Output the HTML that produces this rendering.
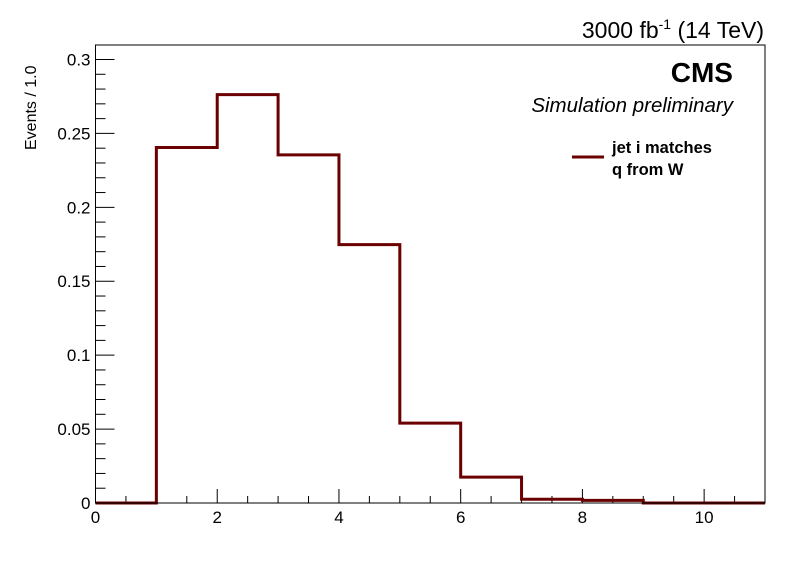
<!DOCTYPE html>
<html><head><meta charset="utf-8"><style>
body{margin:0;background:#fff;}
svg{display:block;font-family:"Liberation Sans",Arial,sans-serif;}
</style></head><body>
<svg id="chart" width="796" height="572" viewBox="0 0 796 572">
<rect x="0" y="0" width="796" height="572" fill="#fff"/>
<g id="axes"></g>
<path id="hist" fill="none" stroke="#6b0000" stroke-width="3"/>
<rect x="95.5" y="45" width="669.5" height="458" fill="none" stroke="#000" stroke-width="1"/>
<text x="764" y="38" text-anchor="end" font-size="23">3000 fb<tspan dy="-9" font-size="14">-1</tspan><tspan dy="9"> (14 TeV)</tspan></text>
<text x="733" y="82" text-anchor="end" font-size="28" font-weight="bold">CMS</text>
<text x="733" y="112" text-anchor="end" font-size="20.5" font-style="italic">Simulation preliminary</text>
<line x1="572" y1="157" x2="604" y2="157" stroke="#6b0000" stroke-width="3"/>
<text x="612" y="153" font-size="16.5" font-weight="bold">jet i matches</text>
<text x="612" y="175" font-size="16.5" font-weight="bold">q from W</text>
<text transform="translate(36,150) rotate(-90)" text-anchor="start" font-size="16">Events / 1.0</text>
</svg>
<script>
const binEdges=[0,1,2,3,4,5,6,7,8,9,10,11];
const binValues=[0,0.2405,0.2762,0.2355,0.1748,0.0540,0.0175,0.0025,0.0018,0,0];
const xTickLabels=[0,2,4,6,8,10];
const yTickLabels=[0,0.05,0.1,0.15,0.2,0.25,0.3];
const X0=95.5,X1=765,Y0=503,Y1=45;
const xMin=0,xMax=11,yMin=0,yMax=0.3098;
function xs(v){return X0+(v-xMin)/(xMax-xMin)*(X1-X0);}
function ys(v){return Y0-(v-yMin)/(yMax-yMin)*(Y0-Y1);}
const NS="http://www.w3.org/2000/svg";
const axes=document.getElementById('axes');
function line(x1,y1,x2,y2,name){const l=document.createElementNS(NS,'line');
l.setAttribute('x1',x1);l.setAttribute('y1',y1);l.setAttribute('x2',x2);l.setAttribute('y2',y2);
l.setAttribute('stroke','#000');l.setAttribute('stroke-width','1');


axes.appendChild(l);}
function text(x,y,s,anchor,name){const t=document.createElementNS(NS,'text');
t.setAttribute('x',x);t.setAttribute('y',y);t.setAttribute('text-anchor',anchor);t.setAttribute('font-size','17');t.textContent=s;


axes.appendChild(t);}
for(let v=0;v<=11.001;v+=0.5){const major=Math.abs(v/2-Math.round(v/2))<1e-6;const x=xs(v);
line(x,Y0,x,Y0-(major?14:7),major?'x-major-tick':'x-minor-tick');}
xTickLabels.forEach(v=>text(xs(v),523,String(v),'middle','x-tick-label'));
for(let i=0;i<=30;i++){const v=i*0.01;const major=i%5===0;const y=ys(v);
line(X0,y,X0+(major?19:10),y,major?'y-major-tick':'y-minor-tick');}
yTickLabels.forEach(v=>text(X0-5,ys(v)+6,String(v),'end','y-tick-label'));
let d='M'+xs(binEdges[0])+','+ys(0);
for(let i=0;i<binValues.length;i++){
d+=' L'+xs(binEdges[i])+','+ys(binValues[i])+' L'+xs(binEdges[i+1])+','+ys(binValues[i]);}
document.getElementById('hist').setAttribute('d',d);
</script>
</body></html>
